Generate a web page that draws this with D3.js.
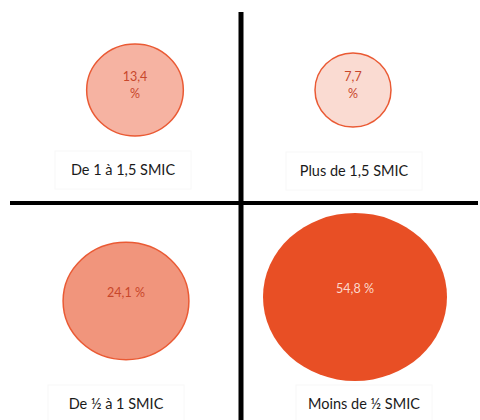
<!DOCTYPE html>
<html><head><meta charset="utf-8">
<script src="https://cdn.jsdelivr.net/npm/d3@7"></script>
<style>body{margin:0;background:#fff}</style>
</head><body>
<svg id="c" width="480" height="420"></svg>
<script>
const categories = ["De 1 à 1,5 SMIC", "Plus de 1,5 SMIC", "De ½ à 1 SMIC", "Moins de ½ SMIC"];
const values = [13.4, 7.7, 24.1, 54.8];
const valueLines = [["13,4", "%"], ["7,7", "%"], ["24,1 %"], ["54,8 %"]];
const fills = ["#f6b3a2", "#fadbd2", "#f1957c", "#e84f25"];
const textColors = ["#c8472b", "#c8472b", "#c8472b", "#fcd9cc"];

const svg = d3.select("#c");
const cx = [135, 353, 126, 355];
const cy = [90, 90, 301, 297];
const lx = [123, 354, 116, 364];
const ly = [175, 176, 409, 409];
const rx = d3.scaleSqrt().domain([7.7, 54.8]).range([38, 92]);
const ry = d3.scaleSqrt().domain([7.7, 54.8]).range([37, 84]);

// divider lines
svg.append("line").attr("x1", 10).attr("x2", 478).attr("y1", 203).attr("y2", 203)
  .attr("stroke", "#000").attr("stroke-width", 4);
svg.append("line").attr("x1", 241).attr("x2", 241).attr("y1", 12).attr("y2", 420)
  .attr("stroke", "#000").attr("stroke-width", 5);

const g = svg.selectAll("g.q").data(values).join("g").attr("class", "q");
g.append("ellipse")
  .attr("cx", (d,i) => cx[i]).attr("cy", (d,i) => cy[i])
  .attr("rx", d => rx(d)).attr("ry", d => ry(d))
  .attr("fill", (d,i) => fills[i])
  .attr("stroke", "#ea5a34").attr("stroke-width", (d,i) => i === 3 ? 0 : 1.5);

g.each(function(d,i){
  const lines = valueLines[i];
  const t = d3.select(this).append("text")
    .attr("text-anchor", "middle")
    .attr("font-family", "Lato, 'Open Sans', sans-serif")
    .attr("font-size", 12.5)
    .attr("fill", textColors[i]);
  const base = lines.length === 2 ? cy[i] - 9 : cy[i] - 4;
  lines.forEach((s, k) => {
    t.append("tspan").attr("x", cx[i]).attr("y", base + k * 17).text(s);
  });
});

// label boxes
g.append("rect")
  .attr("x", (d,i) => lx[i] - 68).attr("y", (d,i) => ly[i] - 24)
  .attr("width", 136).attr("height", 38)
  .attr("fill", "none").attr("stroke", "#f8f8f8").attr("stroke-width", 1);
g.append("text")
  .attr("x", (d,i) => lx[i]).attr("y", (d,i) => ly[i])
  .attr("text-anchor", "middle")
  .attr("font-family", "Lato, 'Open Sans', sans-serif")
  .attr("font-size", 14.5)
  .attr("fill", "#1a1a1a")
  .text((d,i) => categories[i]);
</script>
</body></html>
